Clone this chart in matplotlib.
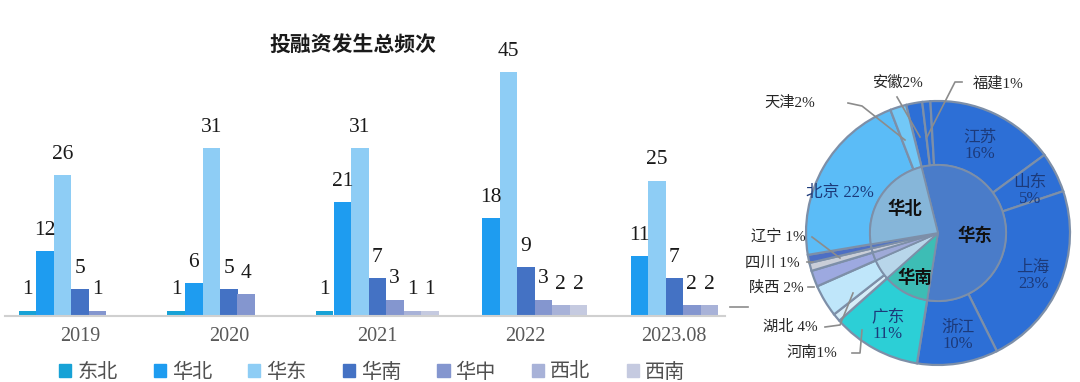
import matplotlib
matplotlib.use("Agg")
import matplotlib.pyplot as plt
import numpy as np

plt.rcParams['font.family'] = ['Noto Sans CJK SC', 'DejaVu Sans']

# ---- 柱状图数据 ----
years = ['2019', '2020', '2021', '2022', '2023.08']
regions = ['东北', '华北', '华东', '华南', '华中', '西北', '西南']
counts = {
    '东北': [1, 1, 1, 0, 0],
    '华北': [12, 6, 21, 18, 11],
    '华东': [26, 31, 31, 45, 25],
    '华南': [5, 5, 7, 9, 7],
    '华中': [1, 4, 3, 3, 2],
    '西北': [0, 0, 1, 2, 2],
    '西南': [0, 0, 1, 2, 0],
}
bar_colors = ['#17a2d6', '#1e9cf0', '#8ecdf5', '#4472c4', '#8496cf', '#a8b2d8', '#c5cae0']

# ---- 饼图数据 ----
provinces = ['安徽', '福建', '江苏', '山东', '上海', '浙江', '广东', '河南', '湖北',
             '陕西', '四川', '辽宁', '北京', '天津']
prov_pct = [2, 1, 16, 5, 23, 10, 11, 1, 4, 2, 1, 1, 22, 2]
prov_region = ['华东', '华东', '华东', '华东', '华东', '华东', '华南', '华中', '华中',
               '西北', '西南', '东北', '华北', '华北']
inner_order = ['华东', '华南', '华中', '西北', '西南', '东北', '华北']

W, H = 1080, 382
fig = plt.figure(figsize=(W / 100, H / 100), dpi=100)

# ================= 柱状图 =================
ax = fig.add_axes([5 / W, (H - 316) / H, 720 / W, 276 / H])
w = 17.5 / 148.5
x = np.arange(len(years))
for j, r in enumerate(regions):
    vals = counts[r]
    for i, v in enumerate(vals):
        if v == 0:
            continue
        xi = x[i] + (j - 3) * w
        ax.bar(xi, v, width=w, color=bar_colors[j], linewidth=0)
        ax.text(xi, v + 2.1, str(v), ha='center', va='bottom', fontsize=15.5,
                family=['Liberation Serif'], color='#1a1a1a')

ax.set_xlim(-75.25 / 148.5, (720 - 75.25) / 148.5)
ax.set_ylim(0, 276 / 5.42)
ax.set_xticks(x)
ax.set_xticklabels(years, family=['Liberation Serif'], fontsize=14.5, color='#595959')
ax.tick_params(axis='x', length=0, pad=8)
ax.set_yticks([])
for s in ['top', 'right', 'left']:
    ax.spines[s].set_visible(False)
ax.spines['bottom'].set_color('#d0d0d0')
ax.spines['bottom'].set_linewidth(1.5)

fig.text(353 / W, 1 - 45 / H, '投融资发生总频次', ha='center', va='center',
         fontsize=15, fontweight='bold', color='#1a1a1a')

# 图例
handles = [plt.Rectangle((0, 0), 1, 1, color=c) for c in bar_colors]
fig.legend(handles, regions, ncol=7, loc='center', bbox_to_anchor=(372 / W, 1 - 372 / H),
           frameon=False, fontsize=14.5, handlelength=0.6, handleheight=0.6,
           handletextpad=0.3, columnspacing=1.8, labelcolor='#505050')

# ================= 环形饼图 =================
R = 132.0
pax = fig.add_axes([(938 - 150) / W, (H - 233 - 150) / H, 300 / W, 300 / H])

prov_colors = ['#2d6fd6', '#2d6fd6', '#2d6fd6', '#2d6fd6', '#2d6fd6', '#2d6fd6',
               '#2ccfd6', '#d6edf8', '#bfe6fa', '#9da9e0', '#c9ced8', '#4d6fc4',
               '#5bbcf7', '#72c8f7']
inner_vals = [sum(p for p, g in zip(prov_pct, prov_region) if g == r) for r in inner_order]
inner_colors = ['#4a7cc9', '#3dbdb5', '#b8d6ea', '#9faad8', '#c8ccd8', '#5676c0', '#86b6d9']

start = 104
pax.pie(prov_pct, radius=1.0, colors=prov_colors, startangle=start, counterclock=False,
        wedgeprops=dict(width=1 - 68 / R, edgecolor='#7d8fa8', linewidth=1.6))
pax.pie(inner_vals, radius=68 / R, colors=inner_colors, startangle=start, counterclock=False,
        wedgeprops=dict(edgecolor='#7d8fa8', linewidth=1.3))
pax.set_xlim(-150 / R, 150 / R)
pax.set_ylim(-150 / R, 150 / R)
pax.set_aspect('equal')
pax.axis('off')

lab_font = ['Liberation Serif', 'Noto Sans CJK SC']

def px(xp, yp):
    return (xp - 938) / R, (233 - yp) / R

# 内圈标签
for name, (xp, yp) in [('华北', (905, 209)), ('华东', (975, 236)), ('华南', (915, 278))]:
    pax.text(*px(xp, yp), name, ha='center', va='center', fontsize=12.5,
             fontweight='bold', color='#111111')

# 外圈内部标签
for t, (xp, yp) in [('江苏\n16%', (980, 146)), ('山东\n5%', (1030, 191)),
                    ('上海\n23%', (1033, 276)), ('浙江\n10%', (958, 336)),
                    ('广东\n11%', (888, 326)), ('北京 22%', (840, 193))]:
    pax.text(*px(xp, yp), t, ha='center', va='center', fontsize=12,
             family=lab_font, color='#1c3a7a', linespacing=1.0)

# 外部标签与引线
outside = [
    ('天津2%', (790, 103), [(848, 103), (862, 106), (905, 140)]),
    ('安徽2%', (898, 83), [(897, 97), (920, 137)]),
    ('福建1%', (998, 83), [(962, 82), (955, 82), (927, 137)]),
    ('辽宁 1%', (778, 237), [(812, 237), (840, 258)]),
    ('四川 1%', (772, 263), [(807, 262), (813, 262)]),
    ('陕西 2%', (776, 288), [(808, 287), (814, 287)]),
    ('湖北 4%', (790, 327), [(825, 327), (840, 325), (853, 293)]),
    ('河南1%', (812, 353), [(852, 353), (860, 353), (862, 330)]),
]
for t, (xp, yp), pts in outside:
    pax.text(*px(xp, yp), t, ha='center', va='center', fontsize=11,
             family=lab_font, color='#262626', clip_on=False)
    xs, ys = zip(*[px(a, b) for a, b in pts])
    pax.plot(xs, ys, color='#8c8c8c', lw=1.2, clip_on=False)

xs, ys = zip(px(730, 307), px(748, 307))
pax.plot(xs, ys, color='#8c8c8c', lw=1.2, clip_on=False)

fig.savefig('out.png', dpi=100)
